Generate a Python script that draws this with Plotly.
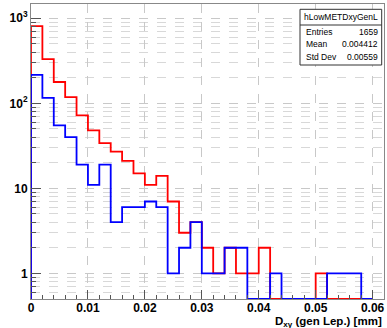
import numpy as np
import plotly.graph_objects as go

# ---- data ----
bin_width = 0.002
n_bins = 30
red_counts = [809, 330, 178, 118, 72, 48, 34, 27, 21, 15, 11, 14, 7, 3, 4,
              2, 1, 2, 1, 1, 2, 0, 0, 0, 0, 1, 0, 0, 0, 0]
blue_counts = [216, 116, 55, 40, 19, 11, 19, 4, 6, 6, 7, 6, 1, 2, 4,
               1, 1, 2, 2, 0, 0, 1, 0, 0, 0, 0, 1, 1, 1, 0]
x_tickvals = [0, 0.01, 0.02, 0.03, 0.04, 0.05, 0.06]
x_ticktext = ["0", "0.01", "0.02", "0.03", "0.04", "0.05", "0.06"]
y_tickvals = [1, 10, 100, 1000]
y_ticktext = ["1", "10", "10<sup>2</sup>", "10<sup>3</sup>"]
stats_title = "hLowMETDxyGenL"
stats_labels = ["Entries", "Mean", "Std Dev"]
stats_values = ["1659", "0.004412", "0.00559"]
x_title = "D<sub>xy</sub> (gen Lep.) [mm]"

x_range = [0, 0.062]
y_log_range = [-0.302, 3.168]
ymin = 10 ** y_log_range[0]

edges = np.arange(n_bins + 1) * bin_width


def step(counts):
    c = np.array(counts, dtype=float)
    c = np.where(c > 0, c, ymin)
    xs = np.concatenate([[edges[0]], np.repeat(edges, 2)[1:-1], [edges[-1]]])
    ys = np.concatenate([[ymin], np.repeat(c, 2), [ymin]])
    return xs, ys


fig = go.Figure()
for counts, col in [(red_counts, "#ff0000"), (blue_counts, "#0000ff")]:
    xs, ys = step(counts)
    fig.add_trace(go.Scatter(x=xs, y=ys, mode="lines",
                             line=dict(color=col, width=1.8),
                             showlegend=False, hoverinfo="skip"))

minor_y = [m * 10 ** k for k in range(-1, 4) for m in range(2, 10)
           if 10 ** y_log_range[0] <= m * 10 ** k <= 10 ** y_log_range[1]]

font_bold = "Liberation Sans, Arial, sans-serif"

fig.update_layout(
    width=387, height=328,
    margin=dict(l=31, r=3, t=4, b=29),
    paper_bgcolor="white", plot_bgcolor="white",
    font=dict(family=font_bold, color="black"),
    xaxis=dict(
        range=x_range, tickmode="array", tickvals=x_tickvals,
        ticktext=["<b>%s</b>" % t for t in x_ticktext],
        ticks="inside", ticklen=9, tickcolor="#555555", tickwidth=1,
        ticklabelstandoff=-2,
        showgrid=True, gridcolor="#c8c8c8", griddash="dash", gridwidth=1,
        minor=dict(tickmode="array",
                   tickvals=[round(i * bin_width, 4) for i in range(32)],
                   ticks="inside", ticklen=4, tickcolor="#555555", showgrid=False),
        showline=True, linecolor="#888888", mirror=True, linewidth=1,
        zeroline=False, tickfont=dict(size=12, family=font_bold),
    ),
    yaxis=dict(
        type="log", range=y_log_range, tickmode="array", tickvals=y_tickvals,
        ticktext=["<b>%s</b>" % t for t in y_ticktext],
        ticks="inside", ticklen=10, tickcolor="#555555", tickwidth=1,
        showgrid=True, gridcolor="#c8c8c8", griddash="dash", gridwidth=1,
        minor=dict(tickmode="array", tickvals=minor_y,
                   ticks="inside", ticklen=5, tickcolor="#555555",
                   showgrid=True, gridcolor="#d8d8d8", griddash="dash"),
        showline=True, linecolor="#888888", mirror=True, linewidth=1,
        zeroline=False, tickfont=dict(size=12, family=font_bold),
    ),
)

# x-axis title (right aligned, ROOT style)
fig.add_annotation(text="<b>%s</b>" % x_title, xref="paper", yref="paper",
                   x=1.0, y=-0.0785, xanchor="right", yanchor="middle",
                   showarrow=False, font=dict(size=11.5, family=font_bold))

# stats box
pw, ph = 353.0, 295.0
def px(x):
    return (x - 31) / pw
def py(y):
    return (299 - y) / ph

bx0, bx1, by0, by1, bsep = px(300), px(381.7), py(65), py(9.3), py(25)
fig.add_shape(type="rect", xref="paper", yref="paper", x0=bx0, x1=bx1,
              y0=by0, y1=by1, line=dict(color="#333333", width=1),
              fillcolor="white", layer="above")
fig.add_shape(type="line", xref="paper", yref="paper", x0=bx0, x1=bx1,
              y0=bsep, y1=bsep, line=dict(color="#333333", width=1), layer="above")
sfont = dict(size=8.5, family="Liberation Sans, Arial, sans-serif", color="black")
fig.add_annotation(text=stats_title, xref="paper", yref="paper",
                   x=(bx0 + bx1) / 2, y=py(17.2), xanchor="center", yanchor="middle",
                   showarrow=False, font=sfont)
for i, (lab, val) in enumerate(zip(stats_labels, stats_values)):
    yy = py(32 + i * 12.5)
    fig.add_annotation(text=lab, xref="paper", yref="paper", x=px(303.5), y=yy,
                       xanchor="left", yanchor="middle", showarrow=False, font=sfont)
    fig.add_annotation(text=val, xref="paper", yref="paper", x=px(380), y=yy,
                       xanchor="right", yanchor="middle", showarrow=False, font=sfont)

fig.write_html("out.html", config={"displayModeBar": False},
               post_script="document.body.style.margin='0';document.body.style.overflow='hidden';")
